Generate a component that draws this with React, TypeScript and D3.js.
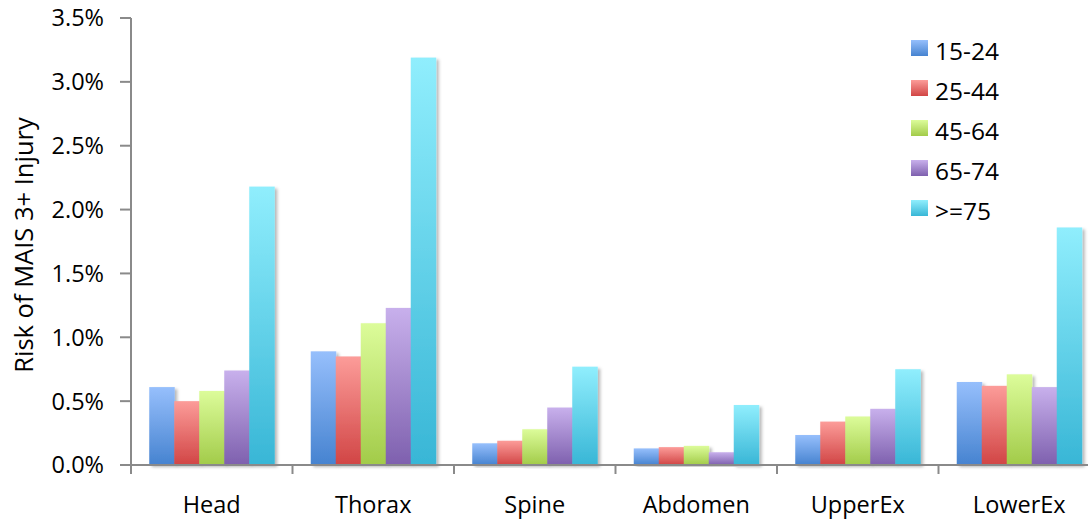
import React from "react";
import * as d3 from "d3";

const categories = ["Head", "Thorax", "Spine", "Abdomen", "UpperEx", "LowerEx"];
const seriesNames = ["15-24", "25-44", "45-64", "65-74", ">=75"];
const s15_24 = [0.61, 0.89, 0.17, 0.13, 0.235, 0.65];
const s25_44 = [0.5, 0.85, 0.19, 0.14, 0.34, 0.62];
const s45_64 = [0.58, 1.11, 0.28, 0.15, 0.38, 0.71];
const s65_74 = [0.74, 1.23, 0.45, 0.1, 0.44, 0.61];
const s75 = [2.18, 3.19, 0.77, 0.47, 0.75, 1.86];
const seriesValues = [s15_24, s25_44, s45_64, s65_74, s75];
const yTicks = [0, 0.5, 1, 1.5, 2, 2.5, 3, 3.5];
const colorsTop = ["#96bffc", "#fc9c99", "#dcfc9a", "#c8b0ec", "#90eefd"];
const colorsBot = ["#4683d0", "#d14545", "#a2cb49", "#7e60ae", "#38b6d6"];

const W = 1088;
const H = 520;
const FONT = "'Open Sans', sans-serif";

export default function App() {
  const x0 = 131;
  const x1 = 1100;
  const yTop = 18;
  const yBase = 465;
  const xCat = d3.scaleBand<string>().domain(categories).range([x0, x1]).paddingInner(0.226).paddingOuter(0.113);
  const xSer = d3.scaleBand<string>().domain(seriesNames).range([0, xCat.bandwidth()]).padding(0);
  const y = d3.scaleLinear().domain([0, 3.5]).range([yBase, yTop]);
  const step = xCat.step();

  return (
    <div style={{ position: "absolute", left: 0, top: 0 }}>
      <svg width={W} height={H} style={{ display: "block" }} fontFamily={FONT}>
        <defs>
          {seriesNames.map((s, i) => (
            <linearGradient key={s} id={`g${i}`} x1="0" y1="0" x2="0" y2="1">
              <stop offset="0%" stopColor={colorsTop[i]} />
              <stop offset="100%" stopColor={colorsBot[i]} />
            </linearGradient>
          ))}
          <filter id="sh" x="-20%" y="-5%" width="150%" height="115%">
            <feDropShadow dx="2.5" dy="2" stdDeviation="1.8" floodColor="#000" floodOpacity="0.28" />
          </filter>
        </defs>
        <rect x={0} y={0} width={W} height={H} fill="#fff" />

        {/* bars */}
        {categories.map((c, ci) => (
          <g key={c} transform={`translate(${xCat(c)},0)`}>
            {seriesNames.map((s, si) => {
              const v = seriesValues[si][ci];
              return (
                <rect
                  key={s}
                  x={xSer(s)}
                  y={y(v)}
                  width={xSer.bandwidth() + 0.5}
                  height={yBase - y(v)}
                  fill={`url(#g${si})`}
                  filter="url(#sh)"
                />
              );
            })}
          </g>
        ))}

        {/* y axis */}
        <line x1={x0} x2={x0} y1={yTop} y2={yBase} stroke="#8a8a8a" strokeWidth={2} />
        {yTicks.map((t) => (
          <g key={t}>
            <line x1={x0 - 11} x2={x0} y1={y(t)} y2={y(t)} stroke="#8a8a8a" strokeWidth={2} />
            <text x={104} y={y(t)} dy="0.36em" textAnchor="end" fontSize={23.5} fill="#000">
              {d3.format(".1f")(t) + "%"}
            </text>
          </g>
        ))}

        {/* x axis */}
        <line x1={x0 - 6} x2={x1} y1={yBase} y2={yBase} stroke="#8a8a8a" strokeWidth={2} />
        {d3.range(categories.length + 1).map((i) => (
          <line key={i} x1={x0 + i * step} x2={x0 + i * step} y1={yBase} y2={yBase + 9} stroke="#8a8a8a" strokeWidth={2} />
        ))}
        {categories.map((c) => (
          <text key={c} x={(xCat(c) as number) + xCat.bandwidth() / 2} y={513} textAnchor="middle" fontSize={23.5} fill="#000">
            {c}
          </text>
        ))}

        {/* y title */}
        <text transform={`translate(33,${245}) rotate(-90)`} textAnchor="middle" fontSize={25.5} fill="#000">
          Risk of MAIS 3+ Injury
        </text>

        {/* legend */}
        {seriesNames.map((s, i) => (
          <g key={s} transform={`translate(911,${40 + i * 40})`}>
            <rect x={0} y={0} width={17} height={16} fill={`url(#g${i})`} />
            <text x={24} y={20} fontSize={24.5} fill="#000">
              {s}
            </text>
          </g>
        ))}
      </svg>
    </div>
  );
}
